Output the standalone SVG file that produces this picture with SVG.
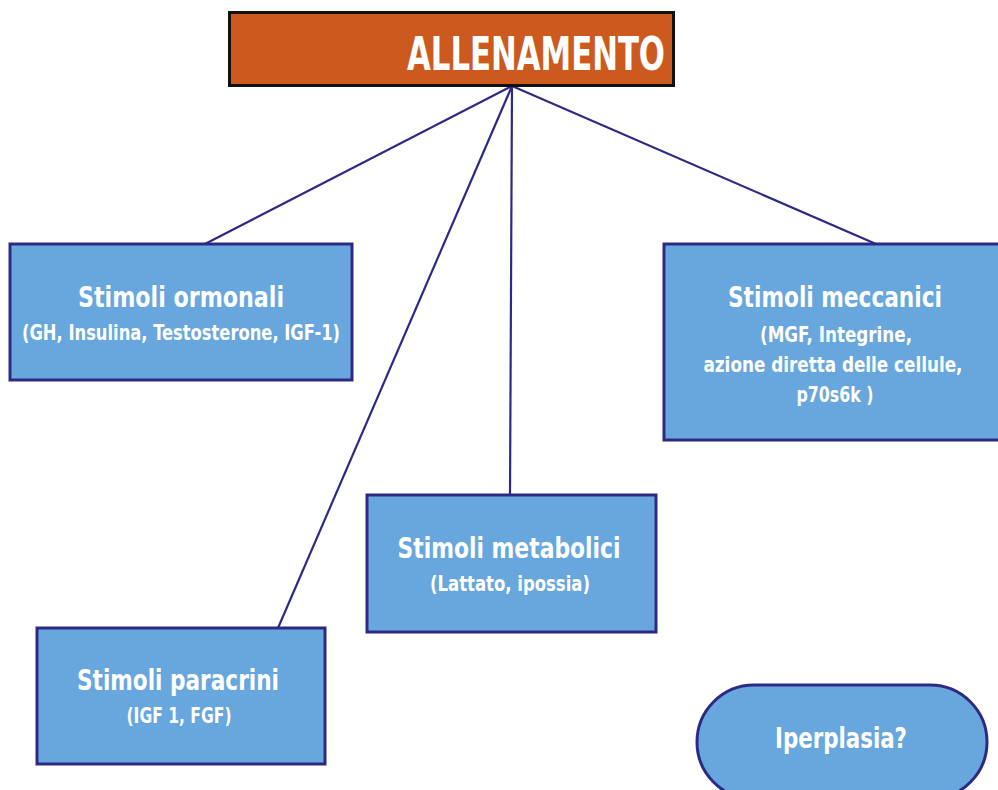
<svg xmlns="http://www.w3.org/2000/svg" width="998" height="790" viewBox="0 0 998 790">
<style>
.box{fill:#68A7DD;stroke:#2E2A84;stroke-width:3}
.t{font-family:"DejaVu Sans Condensed","Liberation Sans",sans-serif;font-weight:bold;fill:#ffffff;text-anchor:middle}
.h{font-size:29px}
.s{font-size:22px}
.conn line{stroke:#2E2A84;stroke-width:2.2}
</style>
<rect width="998" height="790" fill="#ffffff"/>
<g class="conn" id="connectors">
<line x1="512" y1="86" x2="205" y2="244"/>
<line x1="512" y1="86" x2="278" y2="628"/>
<line x1="512" y1="86" x2="510" y2="495"/>
<line x1="512" y1="86" x2="876" y2="244"/>
</g>
<g id="allenamento">
<rect x="229.5" y="12.5" width="444" height="73" fill="#CC5A1E" stroke="#111111" stroke-width="3"/>
<text class="t" x="536" y="70" font-size="46" textLength="258" lengthAdjust="spacingAndGlyphs">ALLENAMENTO</text>
</g>
<g id="ormonali">
<rect class="box" x="10" y="244" width="342" height="136"/>
<text class="t h" x="181" y="307" textLength="206" lengthAdjust="spacingAndGlyphs">Stimoli ormonali</text>
<text class="t s" x="181" y="340" textLength="318" lengthAdjust="spacingAndGlyphs">(GH, Insulina, Testosterone, IGF-1)</text>
</g>
<g id="meccanici">
<rect class="box" x="664" y="244" width="340" height="196"/>
<text class="t h" x="835" y="307" textLength="214" lengthAdjust="spacingAndGlyphs">Stimoli meccanici</text>
<text class="t s" x="836" y="342" textLength="152" lengthAdjust="spacingAndGlyphs">(MGF, Integrine,</text>
<text class="t s" x="833" y="372" textLength="259" lengthAdjust="spacingAndGlyphs">azione diretta delle cellule,</text>
<text class="t s" x="835" y="402" textLength="77" lengthAdjust="spacingAndGlyphs">p70s6k )</text>
</g>
<g id="metabolici">
<rect class="box" x="367" y="495" width="289" height="137"/>
<text class="t h" x="509" y="558" textLength="223" lengthAdjust="spacingAndGlyphs">Stimoli metabolici</text>
<text class="t s" x="510" y="591" textLength="160" lengthAdjust="spacingAndGlyphs">(Lattato, ipossia)</text>
</g>
<g id="paracrini">
<rect class="box" x="37" y="628" width="288" height="136"/>
<text class="t h" x="178" y="690" textLength="202" lengthAdjust="spacingAndGlyphs">Stimoli paracrini</text>
<text class="t s" x="179" y="723" textLength="105" lengthAdjust="spacingAndGlyphs">(IGF 1, FGF)</text>
</g>
<g id="iperplasia">
<rect class="box" x="697" y="685" width="290" height="114" rx="57"/>
<text class="t h" x="841" y="748" textLength="132" lengthAdjust="spacingAndGlyphs">Iperplasia?</text>
</g>
</svg>
